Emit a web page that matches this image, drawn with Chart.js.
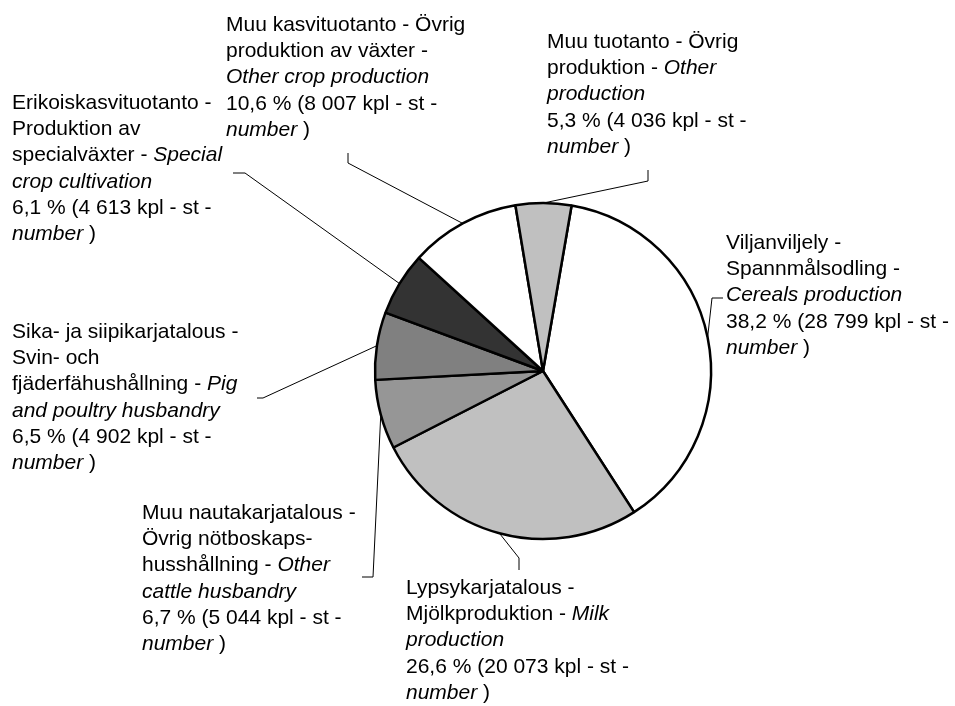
<!DOCTYPE html>
<html>
<head>
<meta charset="utf-8">
<script src="https://cdn.jsdelivr.net/npm/chart.js@4.4.1/dist/chart.umd.min.js"></script>
<style>
  html, body { margin: 0; padding: 0; background: #ffffff; }
  #wrap { width: 955px; height: 706px; position: relative; }
</style>
</head>
<body>
<div id="wrap"><canvas id="pieChart"></canvas></div>
<script>
// Données
const categoriesFi = ['Viljanviljely', 'Lypsykarjatalous', 'Muu nautakarjatalous', 'Sika- ja siipikarjatalous', 'Erikoiskasvituotanto', 'Muu kasvituotanto', 'Muu tuotanto'];
const categoriesSv = ['Spannmålsodling', 'Mjölkproduktion', 'Övrig nötboskaps-husshållning', 'Svin- och fjäderfähushållning', 'Produktion av specialväxter', 'Övrig produktion av växter', 'Övrig produktion'];
const categoriesEn = ['Cereals production', 'Milk production', 'Other cattle husbandry', 'Pig and poultry husbandry', 'Special crop cultivation', 'Other crop production', 'Other production'];
const farmCounts = [28799, 20073, 5044, 4902, 4613, 8007, 4036];

const sliceColors = ['#ffffff', '#c0c0c0', '#969696', '#808080', '#333333', '#ffffff', '#c0c0c0'];

// position des étiquettes (coin gauche, centre de la 1re ligne, largeur de retour à la ligne)
const labelLayout = [
    { x: 726, y: 243, w: 232, elbow: [712, 298], end: [723, 298] },
    { x: 406, y: 588, w: 240, elbow: [519, 558], end: [519, 570] },
    { x: 142, y: 513, w: 222, elbow: [373, 577], end: [362, 577] },
    { x: 12,  y: 332, w: 242, elbow: [263, 398], end: [257, 398] },
    { x: 12,  y: 103, w: 240, elbow: [245, 173], end: [233, 173] },
    { x: 226, y: 25,  w: 250, elbow: [348, 163], end: [348, 153] },
    { x: 547, y: 42,  w: 230, elbow: [648, 181], end: [648, 170] }
];

const FONT_SIZE = 21;
const LINE_H = 26.3;
const FAMILY = '"Liberation Sans", Arial, sans-serif';

function fontFor(italic) {
    return (italic ? 'italic ' : '') + FONT_SIZE + 'px ' + FAMILY;
}

function formatCount(n) {
    return String(n).replace(/\B(?=(\d{3})+(?!\d))/g, ' ');
}

function tokenize(text, italic) {
    const out = [];
    text.split(' ').forEach(word => {
        const parts = word.match(/[^-]*-|[^-]+/g) || [];
        parts.forEach((p, j) => out.push({ text: p, italic: italic, space: j === 0 }));
    });
    return out;
}

function lineWidth(ctx, tokens) {
    let w = 0;
    tokens.forEach((t, i) => {
        ctx.font = fontFor(t.italic);
        if (i > 0 && t.space) w += ctx.measureText(' ').width;
        w += ctx.measureText(t.text).width;
    });
    return w;
}

function wrapTokens(ctx, tokens, maxW) {
    const lines = [];
    let cur = [];
    tokens.forEach(t => {
        const test = cur.concat([t]);
        if (cur.length && lineWidth(ctx, test) > maxW) {
            lines.push(cur);
            cur = [t];
        } else {
            cur = test;
        }
    });
    if (cur.length) lines.push(cur);
    return lines;
}

function drawLine(ctx, tokens, x, y) {
    let cx = x;
    tokens.forEach((t, i) => {
        ctx.font = fontFor(t.italic);
        if (i > 0 && t.space) cx += ctx.measureText(' ').width;
        ctx.fillText(t.text, cx, y);
        cx += ctx.measureText(t.text).width;
    });
}

const total = farmCounts.reduce((a, b) => a + b, 0);

const labelPlugin = {
    id: 'leaderLabels',
    afterDraw(chart) {
        const ctx = chart.ctx;
        const meta = chart.getDatasetMeta(0);
        ctx.save();
        meta.data.forEach((arc, i) => {
            const p = arc.getProps(['x', 'y', 'startAngle', 'endAngle', 'outerRadius'], true);
            const mid = (p.startAngle + p.endAngle) / 2;
            const lay = labelLayout[i];

            // ligne de rappel
            ctx.strokeStyle = '#000000';
            ctx.lineWidth = 1;
            ctx.beginPath();
            ctx.moveTo(p.x + Math.cos(mid) * p.outerRadius, p.y + Math.sin(mid) * p.outerRadius);
            ctx.lineTo(lay.elbow[0], lay.elbow[1]);
            ctx.lineTo(lay.end[0], lay.end[1]);
            ctx.stroke();

            // texte
            const nameTokens = tokenize(categoriesFi[i] + ' - ' + categoriesSv[i] + ' -', false)
                .concat(tokenize(categoriesEn[i], true));
            const pct = (farmCounts[i] / total * 100).toFixed(1).replace('.', ',');
            const valTokens = tokenize(pct + ' % (' + formatCount(farmCounts[i]) + ' kpl - st -', false)
                .concat(tokenize('number', true))
                .concat(tokenize(')', false));
            const lines = wrapTokens(ctx, nameTokens, lay.w).concat(wrapTokens(ctx, valTokens, lay.w));

            ctx.fillStyle = '#000000';
            ctx.textBaseline = 'middle';
            ctx.textAlign = 'left';
            lines.forEach((ln, k) => drawLine(ctx, ln, lay.x, lay.y + k * LINE_H));
        });
        ctx.restore();
    }
};

function chargerGraphique() {
    const ctx = document.getElementById('pieChart').getContext('2d');
    new Chart(ctx, {
        type: 'pie',
        data: {
            labels: categoriesFi,
            datasets: [{
                data: farmCounts,
                backgroundColor: sliceColors,
                borderColor: '#000000',
                borderWidth: 2.5
            }]
        },
        options: {
            responsive: true,
            maintainAspectRatio: false,
            animation: false,
            rotation: 9.8,
            radius: 168,
            layout: { padding: { left: 131, right: 0, top: 36, bottom: 0 } },
            plugins: {
                legend: { display: false },
                tooltip: { enabled: false }
            }
        },
        plugins: [labelPlugin]
    });
}

document.getElementById('wrap').style.height = '706px';
window.onload = chargerGraphique;
</script>
</body>
</html>
